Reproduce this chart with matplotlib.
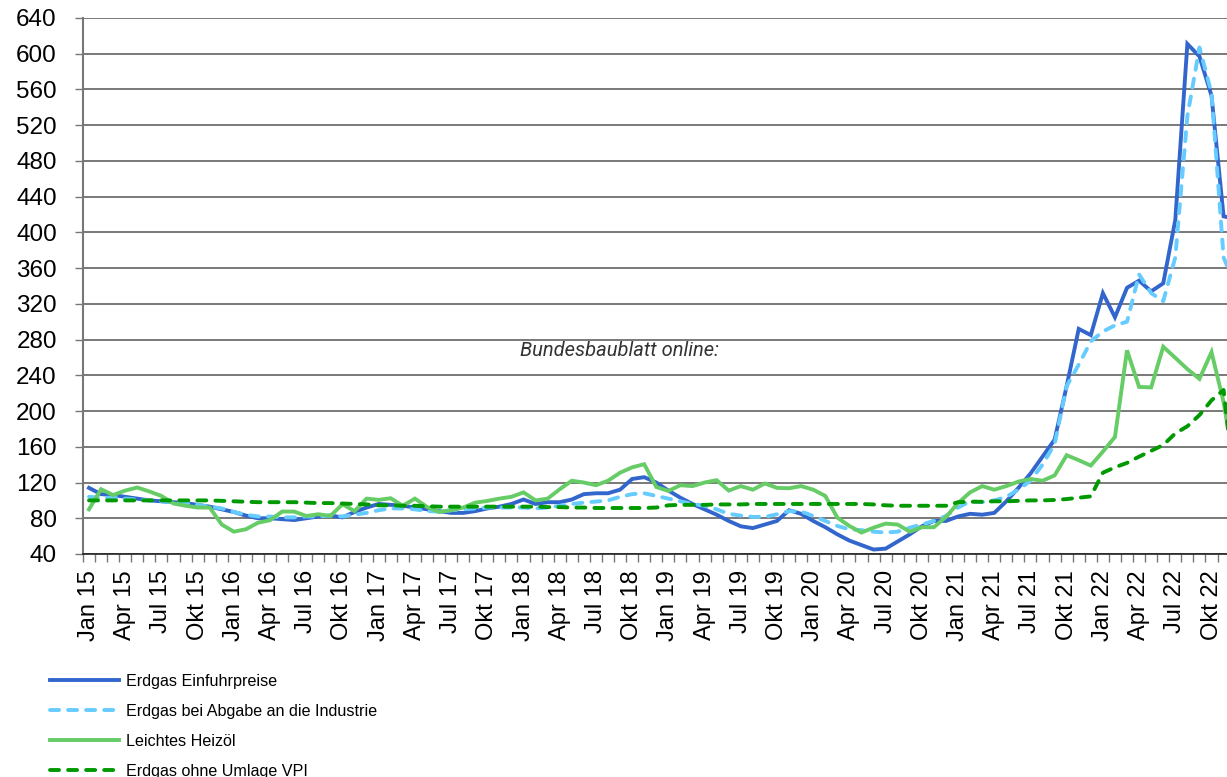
import numpy as np
import matplotlib
matplotlib.use("Agg")
import matplotlib.pyplot as plt

plt.rcParams['font.family'] = ['Liberation Sans', 'DejaVu Sans']
plt.rcParams['lines.scale_dashes'] = False

# ---- data: monthly index values Jan 2015 .. Dec 2022 ----
erdgas_einfuhr = [
    114, 107, 106, 104, 102, 100, 99, 98, 97, 95, 93, 90,
    87, 83, 80, 80, 79, 78, 80, 82, 83, 81, 87, 92,
    96, 95, 94, 92, 90, 88, 86, 86, 88, 91, 93, 96,
    101, 96, 98, 98, 101, 107, 108, 108, 112, 124, 126, 120,
    111, 103, 96, 90, 84, 77, 71, 69, 73, 77, 89, 85,
    77, 70, 62, 55, 50, 45, 46, 54, 62, 71, 77, 77,
    82, 85, 84, 86, 99, 114, 130, 149, 168, 228, 292, 285,
    332, 305, 338, 346, 334, 343, 414, 611, 597, 553, 418, 415,
]
erdgas_industrie = [
    104, 103, 103, 102, 101, 100, 99, 98, 97, 95, 93, 91,
    87, 84, 82, 82, 81, 81, 82, 82, 83, 82, 84, 86,
    89, 91, 91, 90, 88, 87.5, 89, 90, 91, 92, 92, 92,
    92, 91, 92, 94, 96, 97.5, 98.7, 100, 104, 107, 108, 105,
    102, 99, 96, 94, 90, 85, 83, 81.5, 81.5, 84.5, 88, 87.5,
    82.6, 77, 71.4, 67.6, 66.7, 65, 64, 65, 69.5, 73, 77, 82.6,
    92, 99, 98, 100, 104, 112, 122, 140, 163, 228, 252, 278,
    289, 296, 300, 353, 332, 323, 372, 530, 607, 556, 372, 340,
]
heizoel = [
    90, 112.5, 106, 111, 114.4, 110, 105, 96.5, 94, 92, 92, 73,
    65, 67.7, 75, 77.8, 87.5, 87.5, 82.6, 84.5, 82.6, 95.7, 88, 102,
    100.6, 102.4, 94, 102, 92.7, 87, 89, 92, 97.5, 99.4, 102, 104,
    109, 100, 102, 112.5, 122, 120, 117, 122, 131, 137, 140.5, 115,
    110.6, 117, 116, 120, 122.6, 111, 116, 112, 119, 114, 113.6, 116,
    112, 105, 80.7, 71.4, 64, 69.5, 74, 73, 65, 70, 70, 81.5,
    97, 109, 116, 112, 116, 121, 124, 122, 128, 150.6, 145, 139,
    154.6, 171, 268, 227, 226.5, 272, 259.6, 247, 236, 266, 210, 130,
]
erdgas_vpi = [
    100, 100, 100, 100, 100, 100, 100, 100, 100, 100, 100, 99.5,
    99, 98.5, 98, 98, 98, 98, 97.5, 97, 97, 96.5, 96, 95.5,
    94.5, 94.5, 94, 94, 93.5, 93, 93, 93, 93, 93, 93, 93,
    93, 93, 92.5, 92.5, 92, 92, 91.5, 91.5, 91.5, 91.5, 91.5, 92,
    94.5, 95, 95, 95, 95.5, 95.5, 95.5, 96, 96, 96, 96, 96,
    96, 96, 96, 96, 96, 95.5, 94.5, 94, 94, 94, 94, 94,
    98, 98.5, 98.5, 99, 99, 99.5, 100, 100, 100.5, 101.5, 103, 104.5,
    131, 137, 142, 149, 155.5, 162, 175, 183, 195.5, 212, 223.6, 105,
]
series_names = ["Erdgas Einfuhrpreise", "Erdgas bei Abgabe an die Industrie",
                "Leichtes Heizöl", "Erdgas ohne Umlage VPI"]
quarter_names = ["Jan", "Apr", "Jul", "Okt"]
years = list(range(15, 23))
tick_labels = [f"{q} {y}" for y in years for q in quarter_names]
y_ticks = list(range(40, 641, 40))
annotation = "Bundesbaublatt online:"

# ---- figure ----
W, H = 1227, 777
fig = plt.figure(figsize=(W / 100, H / 100), dpi=100)
px = 12.07  # pixels per month
x0 = 89
left = (x0 - 0.5 * px) / W
right_px = x0 + 95.5 * px
ax = fig.add_axes([left, (H - 554) / H, (right_px - (x0 - 0.5 * px)) / W, 536 / H])

x = np.arange(len(erdgas_einfuhr))
lw = 2.8
ax.plot(x, erdgas_einfuhr, color="#3366CC", lw=lw, solid_joinstyle="miter",
        label=series_names[0], zorder=3)
ax.plot(x, erdgas_industrie, color="#66CCFF", lw=lw, dashes=(6.5, 6.5),
        dash_capstyle="round", label=series_names[1], zorder=4)
ax.plot(x, heizoel, color="#66CC66", lw=lw, solid_joinstyle="miter",
        label=series_names[2], zorder=5)
ax.plot(x, erdgas_vpi, color="#009900", lw=lw, dashes=(6.5, 6.5),
        dash_capstyle="round", label=series_names[3], zorder=6)

ax.set_xlim(-0.5, 95.5)
ax.set_ylim(40, 640)
ax.set_yticks(y_ticks)
ax.set_xticks(np.arange(0, 96, 3))
ax.set_xticklabels(tick_labels, rotation=90, va="top", ha="center")
ax.set_xticks(np.arange(-0.5, 96, 1), minor=True)

ax.yaxis.grid(True, color="#555555", lw=1.1)
ax.set_axisbelow(True)
for s in ["top", "right"]:
    ax.spines[s].set_visible(False)
ax.spines["left"].set_color("#777777")
ax.spines["left"].set_linewidth(1.5)
ax.spines["bottom"].set_color("#222222")
ax.spines["bottom"].set_linewidth(1.2)

ax.tick_params(axis="x", which="major", length=0, pad=11.5, labelsize=17)
ax.tick_params(axis="x", which="minor", length=5.8, width=1, color="#777777", direction="out")
ax.tick_params(axis="y", which="major", length=5.8, width=1, color="#777777",
               direction="out", pad=13, labelsize=17.5)

fig.text(619 / W, 1 - 351 / H, annotation, ha="center", va="center",
         fontsize=14.5, style="italic", color="#333333", family=["Roboto", "DejaVu Sans"])

leg = fig.legend(loc="upper left", bbox_to_anchor=(50 / W, 1 - 674 / H),
                 frameon=False, fontsize=11.6, handlelength=4.3, handletextpad=0.4,
                 labelspacing=0.93, borderpad=0, borderaxespad=0)

fig.savefig("out.png", dpi=100)
